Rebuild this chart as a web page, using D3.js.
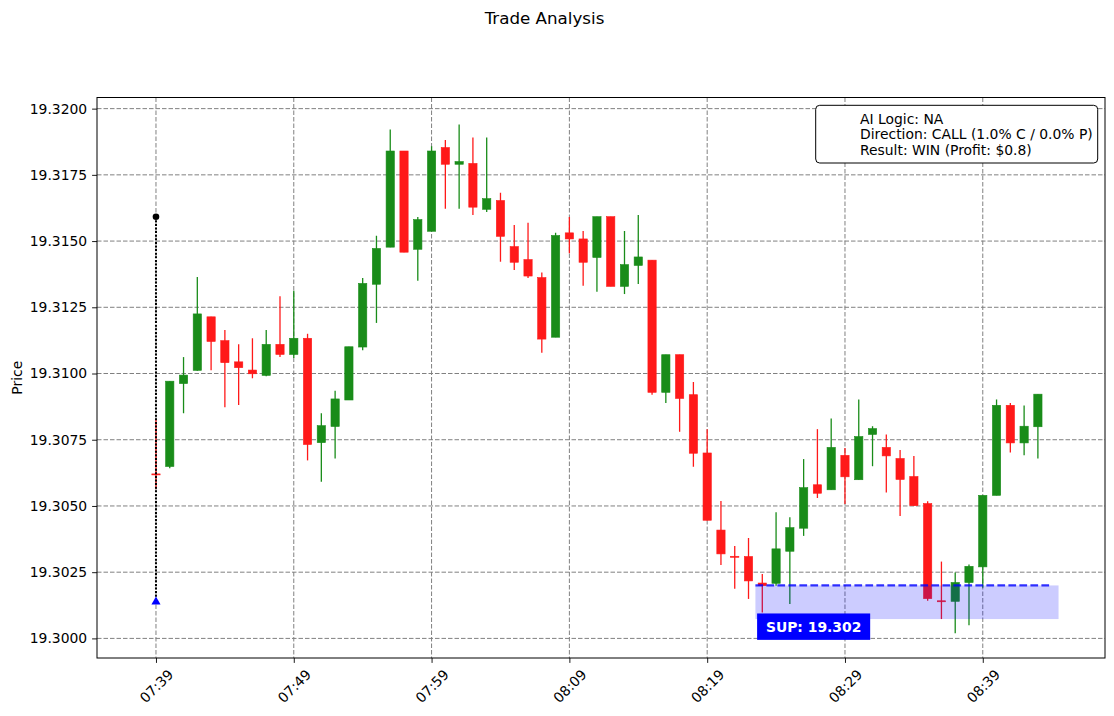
<!DOCTYPE html>
<html>
<head>
<meta charset="utf-8">
<script src="https://cdn.jsdelivr.net/npm/d3@7"></script>
<style>
  body { margin: 0; background: #fff; }
  text { font-family: "DejaVu Sans", sans-serif; }
</style>
</head>
<body>
<div id="chart"></div>
<script>
// one candle per minute, 07:39 .. 08:43
const times = [
  "07:39","07:40","07:41","07:42","07:43","07:44","07:45","07:46","07:47","07:48",
  "07:49","07:50","07:51","07:52","07:53","07:54","07:55","07:56","07:57","07:58",
  "07:59","08:00","08:01","08:02","08:03","08:04","08:05","08:06","08:07","08:08",
  "08:09","08:10","08:11","08:12","08:13","08:14","08:15","08:16","08:17","08:18",
  "08:19","08:20","08:21","08:22","08:23","08:24","08:25","08:26","08:27","08:28",
  "08:29","08:30","08:31","08:32","08:33","08:34","08:35","08:36","08:37","08:38",
  "08:39","08:40","08:41","08:42","08:43"
];
const opens = [
  19.30621,19.30649,19.30962,19.31012,19.31214,19.31124,19.31044,19.31013,19.30993,19.31110,
  19.31072,19.31133,19.30739,19.30800,19.30900,19.31100,19.31337,19.31477,19.31840,19.31469,
  19.31537,19.31853,19.31790,19.31793,19.31620,19.31653,19.31479,19.31430,19.31362,19.31137,
  19.31531,19.31508,19.31438,19.31592,19.31329,19.31408,19.31428,19.30929,19.31071,19.30920,
  19.30700,19.30409,19.30310,19.30309,19.30209,19.30208,19.30329,19.30416,19.30580,19.30561,
  19.30691,19.30599,19.30770,19.30721,19.30679,19.30611,19.30509,19.30142,19.30140,19.30211,
  19.30270,19.30540,19.30880,19.30738,19.30799
];
const highs = [
  19.30827,19.30971,19.31062,19.31364,19.31214,19.31164,19.31110,19.31133,19.31164,19.31292,
  19.31312,19.31150,19.30850,19.30935,19.31101,19.31361,19.31520,19.31921,19.31840,19.31591,
  19.31858,19.31882,19.31940,19.31891,19.31891,19.31682,19.31561,19.31569,19.31381,19.31531,
  19.31591,19.31538,19.31592,19.31592,19.31538,19.31598,19.31428,19.31071,19.31071,19.30968,
  19.30790,19.30519,19.30349,19.30379,19.30243,19.30476,19.30457,19.30677,19.30790,19.30830,
  19.30719,19.30902,19.30801,19.30770,19.30711,19.30689,19.30518,19.30290,19.30249,19.30279,
  19.30540,19.30902,19.30889,19.30879,19.30922
];
const lows = [
  19.30564,19.30642,19.30850,19.31010,19.31012,19.30873,19.30881,19.30982,19.30990,19.31062,
  19.31059,19.30672,19.30591,19.30679,19.30900,19.31088,19.31191,19.31477,19.31458,19.31350,
  19.31537,19.31622,19.31622,19.31598,19.31610,19.31422,19.31391,19.31361,19.31078,19.31137,
  19.31454,19.31331,19.31309,19.31329,19.31300,19.31338,19.30920,19.30889,19.30780,19.30648,
  19.30446,19.30277,19.30187,19.30149,19.30098,19.30199,19.30130,19.30387,19.30530,19.30561,
  19.30507,19.30599,19.30650,19.30551,19.30462,19.30501,19.30142,19.30073,19.30019,19.30050,
  19.30191,19.30540,19.30702,19.30691,19.30679
];
const closes = [
  19.30619,19.30971,19.30994,19.31225,19.31121,19.31041,19.31022,19.30999,19.31110,19.31072,
  19.31133,19.30732,19.30803,19.30904,19.31101,19.31340,19.31472,19.31840,19.31458,19.31581,
  19.31840,19.31790,19.31800,19.31628,19.31660,19.31518,19.31420,19.31368,19.31130,19.31521,
  19.31508,19.31420,19.31592,19.31329,19.31411,19.31440,19.30929,19.31071,19.30906,19.30699,
  19.30446,19.30319,19.30307,19.30217,19.30199,19.30338,19.30418,19.30569,19.30548,19.30721,
  19.30610,19.30762,19.30792,19.30689,19.30600,19.30501,19.30150,19.30140,19.30211,19.30272,
  19.30540,19.30880,19.30738,19.30801,19.30922
];

const priceTicks = [19.3000, 19.3025, 19.3050, 19.3075, 19.3100, 19.3125, 19.3150, 19.3175, 19.3200];
const timeTicks = [0, 10, 20, 30, 40, 50, 60];

// trade marker and support zone
const entryIndex = 0;
const entryPrice = 19.30140;
const exitPrice = 19.31592;
const supPrice = 19.3020;
const zoneLow = 19.30073;
const zoneStart = 43.5, zoneEnd = 65.5, supLineEnd = 65;

const legendLines = [
  "AI Logic: NA",
  "Direction: CALL (1.0% C / 0.0% P)",
  "Result: WIN (Profit: $0.8)"
];

const candles = times.map((t, i) => ({
  i, t, o: opens[i], h: highs[i], l: lows[i], c: closes[i]
}));

const W = 1114, H = 716;
const plot = { left: 97, right: 1105, top: 97.5, bottom: 658 };
const green = "#198c19", red = "#ff1919";

const svg = d3.select("#chart").append("svg")
  .attr("width", W).attr("height", H)
  .style("background", "#fff");

const x = d3.scaleLinear().domain([-4.28, 68.87]).range([plot.left, plot.right]);
const y = d3.scaleLinear().domain([19.29926, 19.32042]).range([plot.bottom, plot.top]);

svg.append("text")
  .attr("x", 544.5).attr("y", 24)
  .attr("text-anchor", "middle")
  .attr("font-size", "16.7px")
  .text("Trade Analysis");

svg.append("defs").append("clipPath").attr("id", "clip")
  .append("rect")
  .attr("x", plot.left).attr("y", plot.top)
  .attr("width", plot.right - plot.left).attr("height", plot.bottom - plot.top);

// grid
const grid = svg.append("g").attr("clip-path", "url(#clip)")
  .attr("stroke", "#808080").attr("stroke-width", 1).attr("stroke-dasharray", "4.5,2");
grid.selectAll("line.h").data(priceTicks).enter().append("line")
  .attr("x1", plot.left).attr("x2", plot.right)
  .attr("y1", d => y(d)).attr("y2", d => y(d));
grid.selectAll("line.v").data(timeTicks).enter().append("line")
  .attr("y1", plot.top).attr("y2", plot.bottom)
  .attr("x1", d => x(d)).attr("x2", d => x(d));

// candles
const bw = x(0.6) - x(0);
const cg = svg.append("g").attr("clip-path", "url(#clip)");
cg.selectAll("line.wick").data(candles).enter().append("line")
  .attr("x1", d => x(d.i)).attr("x2", d => x(d.i))
  .attr("y1", d => y(d.h)).attr("y2", d => y(d.l))
  .attr("stroke", d => d.c >= d.o ? green : red)
  .attr("stroke-width", 1.3);
cg.selectAll("rect.body").data(candles).enter().append("rect")
  .attr("x", d => x(d.i) - bw / 2)
  .attr("width", bw)
  .attr("y", d => y(Math.max(d.o, d.c)))
  .attr("height", d => Math.max(1, Math.abs(y(d.o) - y(d.c))))
  .attr("fill", d => d.c >= d.o ? green : red)
  .attr("stroke", d => d.c >= d.o ? green : red)
  .attr("stroke-width", 0.6);

// support zone
cg.append("rect")
  .attr("x", x(zoneStart)).attr("width", x(zoneEnd) - x(zoneStart))
  .attr("y", y(supPrice)).attr("height", y(zoneLow) - y(supPrice))
  .attr("fill", "blue").attr("opacity", 0.2);
cg.append("line")
  .attr("x1", x(zoneStart)).attr("x2", x(supLineEnd))
  .attr("y1", y(supPrice)).attr("y2", y(supPrice))
  .attr("stroke", "blue").attr("stroke-opacity", 0.8)
  .attr("stroke-width", 2.1).attr("stroke-dasharray", "7.7,3.3");

// trade path
cg.append("line")
  .attr("x1", x(entryIndex)).attr("x2", x(entryIndex))
  .attr("y1", y(exitPrice)).attr("y2", y(entryPrice))
  .attr("stroke", "#000").attr("stroke-width", 2).attr("stroke-dasharray", "2,1.6");
cg.append("circle")
  .attr("cx", x(entryIndex)).attr("cy", y(exitPrice)).attr("r", 3.3)
  .attr("fill", "#000");
cg.append("path")
  .attr("d", d3.symbol().type(d3.symbolTriangle).size(36))
  .attr("transform", `translate(${x(entryIndex)},${y(entryPrice) + 0.5})`)
  .attr("fill", "blue");

// support label
const supG = svg.append("g");
const supText = supG.append("text")
  .attr("x", x(zoneStart) + 10.5).attr("y", y(zoneLow) + 7.6)
  .attr("dominant-baseline", "central")
  .attr("font-size", "13.9px").attr("font-weight", "bold")
  .attr("fill", "#fff")
  .text("SUP: " + supPrice.toFixed(3));
const sb = supText.node().getBBox();
supG.insert("rect", "text")
  .attr("x", sb.x - 8.8).attr("y", sb.y - 5.2)
  .attr("width", sb.width + 17.6).attr("height", sb.height + 10.4)
  .attr("fill", "blue");

// axes
const yAxis = svg.append("g")
  .attr("transform", `translate(${plot.left},0)`)
  .call(d3.axisLeft(y).tickValues(priceTicks).tickFormat(d3.format(".4f"))
    .tickSize(4.9).tickPadding(4.9));
const xAxis = svg.append("g")
  .attr("transform", `translate(0,${plot.bottom})`)
  .call(d3.axisBottom(x).tickValues(timeTicks).tickFormat(i => times[i])
    .tickSize(4.9).tickPadding(4.9));
[yAxis, xAxis].forEach(a => {
  a.select(".domain").remove();
  a.selectAll("line").attr("stroke", "#000").attr("stroke-width", 0.9);
  a.selectAll("text").attr("font-size", "13.9px").attr("fill", "#000")
    .attr("font-family", "DejaVu Sans, sans-serif");
});
xAxis.selectAll("text")
  .attr("y", null).attr("dy", null)
  .attr("text-anchor", "middle")
  .attr("dominant-baseline", "central")
  .attr("transform", "translate(0,28) rotate(-45)");

svg.append("rect")
  .attr("x", plot.left).attr("y", plot.top)
  .attr("width", plot.right - plot.left).attr("height", plot.bottom - plot.top)
  .attr("fill", "none").attr("stroke", "#000").attr("stroke-width", 1);

svg.append("text")
  .attr("transform", `translate(22,${(plot.top + plot.bottom) / 2}) rotate(-90)`)
  .attr("text-anchor", "middle")
  .attr("font-size", "13.9px")
  .text("Price");

// legend box
const lg = svg.append("g");
lg.append("rect")
  .attr("x", 815.7).attr("y", 105.3).attr("width", 282).attr("height", 57.7)
  .attr("rx", 4).attr("fill", "#fff").attr("stroke", "#000").attr("stroke-width", 1);
lg.selectAll("text").data(legendLines).enter().append("text")
  .attr("x", 860).attr("y", (d, i) => 124 + i * 15.3)
  .attr("font-size", "13.9px")
  .text(d => d);
</script>
</body>
</html>
